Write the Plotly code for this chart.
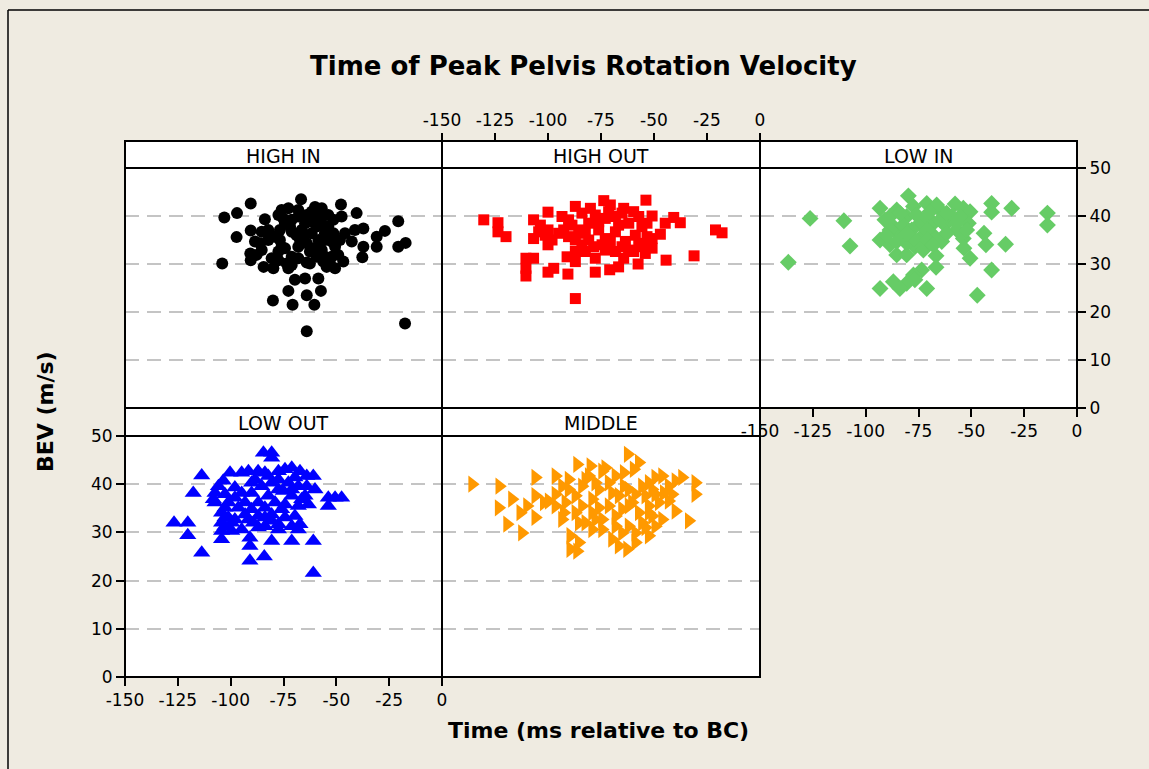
import plotly.graph_objects as go

W, H = 1149, 769

# Time of peak pelvis rotation (ms relative to BC) and BEV (m/s), per group
high_in_t = [-66.7, -90.5, -103, -97, -47.8, -40.4, -20.7, -47.5, -97.2, -90.5, -83.8, -104, -90.5, -90.7,
             -84.4, -79.8, -86.1, -85.3, -77.4, -72.7, -68, -60.1, -53.8, -56.9, -64.8, -71.1, -76.7, -76.7,
             -77.4, -80.6, -73.5, -72.7, -64, -68, -64, -61.7, -55.4, -55.4, -50.6, -46.7, -50.6, -54.6,
             -45.9, -41.2, -37.2, -42.7, -37.2, -37.7, -30.9, -30.9, -27, -20.7, -17.2, -69.6, -64.8, -58.5,
             -72.7, -64, -57.3, -80, -70.7, -60.4, -64, -17.5, -71.1, -66.4, -59.3, -53.8, -58.5, -64,
             -74.3, -67.2, -60.9, -56.9, -52.2, -48.3, -77.4, -71.1, -85.3, -87.7, -82.2, -88.5, -74.3,
             -55.4, -51.4, -75.9, -61.7, -68, -75.1, -71.9, -68.8, -65.6, -62.5, -59.3, -56.2, -53,
             -49.1, -75.9, -79, -82.2, -71.1, -62.5, -68, -58.5, -52.2, -61.7, -56.9, -51.4]
high_in_v = [43.5, 42.6, 39.7, 40.6, 42.4, 40.6, 38.9, 39.9, 35.6, 37.0, 39.3, 30.1, 30.8, 32.2,
             29.4, 29.1, 34.3, 36.7, 40.2, 41.6, 41.25, 41.9, 40.2, 38.5, 38.5, 39.2, 37.1, 35,
             32.6, 31.2, 30.1, 29.1, 30.3, 33.6, 34.3, 36.4, 35, 31.5, 33.6, 30.5, 29.1, 29.4,
             36.4, 37.1, 37.4, 34.7, 33.6, 31.4, 33.6, 35.7, 36.9, 33.6, 34.4, 26.7, 27, 27,
             24.4, 23.5, 24.4, 22.4, 21.5, 21.5, 16.0, 17.6, 36.7, 37.1, 37.8, 37.8, 39.9, 40.2,
             38.5, 35, 33.3, 32.9, 31.5, 35, 30.8, 31.5, 32.9, 31.9, 35, 34.7, 33.3,
             36.4, 36.4, 41.25, 40.9, 39.9, 39.5, 37.8, 36.0, 35.3, 32.6, 31.5, 30.5, 30.1,
             31.9, 33.6, 35.7, 37.1, 29.8, 30.1, 31.2, 35, 34.7, 38.8, 41.6, 39.2]

high_out_t = [-130.3, -123.6, -123.6, -119.8, -106.8, -103.6, -106.8, -100, -100, -100, -98.1, -93.4, -92.6,
              -90.3, -87.1, -80, -73.7, -70.6, -64.3, -59.6, -53.8, -50.9, -44.7, -40.7, -37.6, -21, -17.9,
              -47, -50.9, -50.9, -54.1, -44.3, -31.1, -57.5, -66.7, -70.9, -77.7, -90.6, -87.1, -97.3, -100,
              -110.4, -106.8, -110.4, -110.4, -91, -87.1, -87.1, -82.4, -77.7, -73, -68.2, -64.3, -59.6,
              -55.7, -87.1, -80.8, -85.5, -80.8, -76.1, -73, -68.2, -63.5, -58.8, -55.7, -61.9, -68.2, -73,
              -77.7, -84, -95, -65.1, -74.5, -84, -57.2, -88.7, -82.4, -78.5, -70.6, -66.7, -62, -57.2,
              -53.3, -71.4, -65.1, -53.3, -76.1, -90.3, -101.3, -104.4]
high_out_v = [39.2, 38.6, 36.7, 35.7, 39.2, 38.1, 35.3, 40.8, 37.1, 34, 35, 39.9, 37.1,
              39.2, 42, 41.6, 43.2, 42.3, 41.6, 40.9, 43.3, 40, 38.5, 39.7, 38.6, 37.1, 36.5,
              36.2, 35.3, 33.3, 32.2, 30.8, 31.7, 30, 29.4, 28.8, 28.3, 27.9, 22.8, 29.1, 28.3,
              31.2, 31.2, 29.1, 27.5, 31.5, 30.5, 32.6, 32.6, 31.2, 32.9, 32.6, 31.2, 32.6,
              33.6, 35, 35, 37.1, 38.5, 37.1, 35.3, 36.7, 34.7, 36, 37.8, 38.5, 39.9, 39.5,
              40.2, 40.6, 36.4, 33.6, 34, 34, 39.9, 38.1, 36.4, 33.6, 34.7, 38.1, 32.9, 34.3,
              35.7, 40.9, 40.6, 38.5, 38.8, 35.7, 36.0, 36.7]

low_in_t = [-136.6, -126.3, -110.3, -107.4, -93.2, -93.2, -90.9, -79.8, -85.3, -80.6, -86.9, -83.8, -88.5,
            -85.3, -80.6, -76.7, -72.7, -74.3, -71.1, -66.4, -64, -57.7, -53.8, -50.6, -51.4, -56.9, -62.5,
            -68, -74.3, -78.2, -64, -68, -53.8, -53.5, -50.6, -44, -43.1, -33.8, -40.4, -40.4, -30.9, -14,
            -14, -66.7, -66.7, -73.5, -77.4, -80.6, -86.9, -83.8, -93.2, -71.1, -76.7, -40.4, -47.2, -71.1,
            -77.4, -59.3, -82.2, -71.1, -61.7, -88.5, -80.6, -88.5, -83.8, -75.9, -69.6, -64.8, -61.7,
            -55.4, -56.9, -77.4, -71.1, -68, -85.3, -80.6, -90.1, -52.2]
low_in_v = [30.35, 39.5, 39.0, 33.75, 41.6, 35, 39.2, 44.2, 41.25, 39.9, 37.8, 36.0, 34,
            31.9, 31.9, 33.6, 32.9, 35.3, 42.6, 42.3, 40.9, 42.5, 41.6, 40.9, 38.5, 37.1, 38.1,
            38.5, 38.5, 37.1, 34.7, 36.0, 35.3, 33.3, 31.2, 36.4, 34, 34.1, 42.6, 40.8, 41.6, 40.6,
            38.1, 31.7, 29.3, 28.75, 27.7, 26, 26.3, 24.9, 24.9, 24.9, 26.7, 28.75, 23.5, 39.9,
            42, 39.9, 38.1, 37.1, 36.4, 37.1, 34.3, 39.9, 40.6, 40.2, 40.9, 39.2, 40.6,
            39.9, 38.5, 35.3, 35, 33.95, 34.7, 36.4, 36.0, 37.1]

low_out_t = [-84.5, -80.6, -80.6, -113.7, -117.7, -126.8, -120.3, -120.3, -113.7, -104.3, -90.9, -84.1, -60.9,
             -60.9, -71.1, -80.6, -90.9, -90.9, -67.2, -100.3, -103.5, -107.4, -108.2, -104.3, -104.3, -104.3,
             -99.5, -99.5, -98, -91.6, -87, -77.4, -71.1, -67.2, -60.9, -60.1, -63.2, -53.8, -50.6, -47.5,
             -53.8, -74.3, -82.2, -90.1, -94.8, -101.1, -96.4, -93.2, -89.3, -83.8, -77.4, -74.3, -69.6, -68,
             -64.8, -68, -72.7, -77.4, -82.2, -86.9, -90.1, -85.3, -79, -74.3, -80.6, -86.9, -98, -102.7,
             -105.8, -94.8, -69.6, -64, -71.1, -83.8, -94.8, -77.4, -71.1, -83.8, -102.7, -88.5, -80.6,
             -75.1, -71.1, -66.4, -75.9, -80.6, -86.9, -91.6, -93.2, -90.1, -98, -102.7, -107.4, -101.1,
             -102.7, -77.4, -68, -64, -83.8]
low_out_v = [46.5, 46.5, 45.5, 41.8, 38.2, 32, 32, 29.4, 25.8, 28.6, 24.1, 25, 21.6,
             28.2, 28.2, 28.2, 28.9, 27.2, 31.7, 42.4, 40.7, 38.2, 36.9, 34.1, 32, 30.3,
             30.3, 32, 39.3, 42.7, 42.7, 42.7, 43.4, 42.7, 41.7, 38.9, 35.8, 37.2, 37.2, 37.2,
             35.5, 43.1, 41.7, 40.3, 38.2, 36.2, 35.1, 33.7, 32, 31.3, 31.7, 33.1, 33.4, 35.5,
             37.6, 39.6, 40.3, 38.9, 37.6, 36.2, 38.2, 39.6, 36.2, 35.8, 33.7, 33.4, 32.7, 35.1,
             39.6, 42.4, 41.4, 39.6, 37.6, 35.1, 30.6, 41, 31.3, 33.1, 33.1, 41, 40.3,
             38.6, 38.9, 36.9, 34.8, 32.4, 31, 32.7, 36.2, 34.8, 37.2, 37.9, 36.2, 33.1,
             31.3, 30.6, 30.6, 41.7, 42.4]

middle_t = [-135.8, -123, -106, -123.3, -117, -119.3, -112.3, -113.1, -109.9, -106, -106, -102, -96.5,
            -96.5, -96.5, -92.6, -90.3, -86.3, -80, -73, -62.4, -57.2, -64.3, -59.6, -49.4, -46.2, -36.8,
            -30.5, -30.5, -43.1, -49.4, -39.9, -33.6, -46.2, -52.5, -55.7, -62, -58.8, -66.7, -62.7, -69.8,
            -79.2, -85.5, -89.5, -89.5, -86.3, -85.5, -74.5, -68.2, -57.2, -52.5, -47.8, -87.1, -84, -79.2,
            -76.1, -71.4, -66.7, -62, -55.7, -54.1, -71.4, -79.2, -90.3, -82.4, -68.2, -60.4, -65.1, -87.1,
            -93.4, -50.9, -43.1, -74.5, -58.8, -80.8, -99.7, -84, -77.7, -69.8, -64.3, -58.8, -50.9, -45.4,
            -41.5, -39.9, -52.5, -62, -68.2, -65.1, -54.1, -49.4, -77.7, -82.4, -91.8, -93.4, -76.1, -52.5,
            -74.5]
middle_v = [40, 39.6, 41.4, 35.1, 36.9, 31.7, 29.9, 34.1, 35.5, 37.6, 33.1, 36.2, 41.7,
            37.9, 35.5, 34.1, 41, 44.1, 43.8, 43.4, 46.2, 44.5, 42.4, 43.1, 41.4, 41.7, 41.4,
            40.3, 37.9, 39.6, 37.9, 34.4, 32.4, 32.7, 29.3, 32, 31.3, 27.9, 27.2, 26.5, 28.6,
            30.6, 32, 29.3, 26.5, 26.1, 27.9, 32.7, 33.4, 34.1, 35.5, 36.2, 37.6, 35.5, 36.9,
            38.9, 40.3, 37.6, 38.9, 39.6, 37.6, 35.5, 34.1, 38.9, 41, 41.7, 36.2, 34.8, 34.1,
            39.6, 33.4, 36.5, 30.6, 29.9, 41.7, 36.5, 39.6, 40.3, 38.2, 39.6, 37.9, 38.9, 38.2,
            37.9, 40.7, 34.1, 35.5, 31.3, 29.9, 31, 31.3, 32.7, 32, 36.2, 32.7, 35.1, 40.3,
            42.7]

x_ticks = [-150, -125, -100, -75, -50, -25, 0]
y_ticks = [0, 10, 20, 30, 40, 50]

# panel boxes in pixels: name, x0, x1, strip top, plot top, plot bottom
panels = [
    ("HIGH IN", 125, 442, 141, 168, 408),
    ("HIGH OUT", 442, 760, 141, 168, 408),
    ("LOW IN", 760, 1077, 141, 168, 408),
    ("LOW OUT", 125, 442, 408, 436, 677),
    ("MIDDLE", 442, 760, 408, 436, 677),
]
series = [
    (high_in_t, high_in_v, "black", "circle", 12),
    (high_out_t, high_out_v, "#ff0000", "square", 11),
    (low_in_t, low_in_v, "#66cc66", "diamond", 13),
    (low_out_t, low_out_v, "#0000ff", "triangle-up", 15),
    (middle_t, middle_v, "#ff9900", "triangle-right", 15),
]


def fx(p):
    return p / W


def fy(p):
    return 1 - p / H


FONT = "DejaVu Sans"
tickfont = dict(family=FONT, size=17, color="black")
x_labels = [str(v) for v in x_ticks]  # plain hyphen, not the unicode minus

fig = go.Figure()
shapes = []
annotations = []


def label(text, x, y, size, angle=0):
    annotations.append(dict(text=text, x=fx(x), y=fy(y), xref="paper", yref="paper",
                            xanchor="center", yanchor="middle", showarrow=False, textangle=angle,
                            font=dict(family=FONT, size=size, color="black")))


for i, ((name, x0, x1, st, pt, pb), (tx, vy, col, sym, sz)) in enumerate(zip(panels, series)):
    n = "" if i == 0 else str(i + 1)
    fig.add_trace(go.Scatter(
        x=tx, y=vy, mode="markers", xaxis="x" + n, yaxis="y" + n,
        marker=dict(color=col, symbol=sym, size=sz, line=dict(width=0)),
        showlegend=False, cliponaxis=False,
    ))
    xa = dict(domain=[fx(x0), fx(x1)], range=[-150, 0], anchor="y" + n, showgrid=False,
              zeroline=False, showline=False, tickvals=x_ticks, ticktext=x_labels,
              showticklabels=False, ticks="", tickfont=tickfont, ticklen=8, tickcolor="black",
              tickwidth=1.5, automargin=False)
    ya = dict(domain=[fy(pb), fy(pt)], range=[0, 50], anchor="x" + n, showgrid=True,
              gridcolor="#c4c4c4", gridwidth=2, griddash="14px,8px", zeroline=False,
              showline=False, tickvals=[10, 20, 30, 40], showticklabels=False, ticks="",
              tickfont=tickfont, ticklen=8, tickcolor="black", tickwidth=1.5, automargin=False)
    if name == "HIGH OUT":
        xa.update(side="top", anchor="free", position=fy(st), ticks="outside", showticklabels=True)
    if name in ("LOW IN", "LOW OUT"):
        xa.update(ticks="outside", showticklabels=True)
    if name == "LOW IN":
        ya.update(side="right", ticks="outside", showticklabels=True)
    if name == "LOW OUT":
        ya.update(ticks="outside", showticklabels=True)
    if ya["showticklabels"]:
        ya.update(tickvals=y_ticks)
    fig.layout["xaxis" + n] = xa
    fig.layout["yaxis" + n] = ya

    # strip and panel frames
    shapes.append(dict(type="rect", xref="paper", yref="paper", x0=fx(x0), x1=fx(x1),
                       y0=fy(pt), y1=fy(st), fillcolor="white", line=dict(color="black", width=2),
                       layer="below"))
    shapes.append(dict(type="rect", xref="paper", yref="paper", x0=fx(x0), x1=fx(x1),
                       y0=fy(pb), y1=fy(pt), line=dict(color="black", width=2), layer="above"))
    shapes.append(dict(type="rect", xref="paper", yref="paper", x0=fx(x0), x1=fx(x1),
                       y0=fy(pb), y1=fy(pt), fillcolor="white", line=dict(width=0), layer="below"))
    label(name, (x0 + x1) / 2, (st + pt) / 2 + 1, 19)

# outer frame of the graph window (top and left edges)
shapes.append(dict(type="line", xref="paper", yref="paper", x0=fx(8), x1=1, y0=fy(10), y1=fy(10),
                   line=dict(color="black", width=1.5)))
shapes.append(dict(type="line", xref="paper", yref="paper", x0=fx(8), x1=fx(8), y0=0, y1=fy(10),
                   line=dict(color="black", width=1.5)))

label("<b>Time of Peak Pelvis Rotation Velocity</b>", 583, 66, 26)
label("<b>Time (ms relative to BC)</b>", 598, 730, 22)
label("<b>BEV (m/s)</b>", 45, 412, 22, angle=-90)

fig.update_layout(
    width=W, height=H, margin=dict(l=0, r=0, t=0, b=0, autoexpand=False),
    paper_bgcolor="#efebe1", plot_bgcolor="rgba(0,0,0,0)",
    shapes=shapes, annotations=annotations,
)

fig.write_html("out.html", config={"displayModeBar": False},
               post_script="document.body.style.margin='0';document.body.style.overflow='hidden';")
